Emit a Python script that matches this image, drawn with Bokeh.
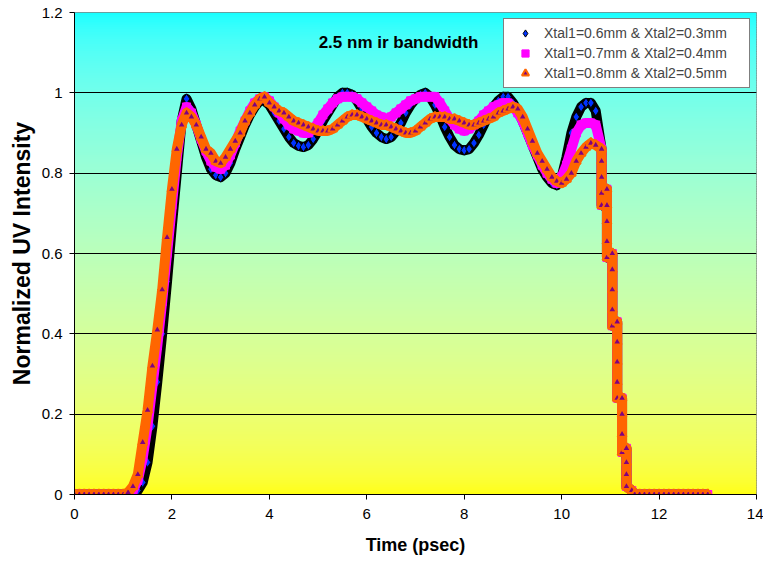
from bokeh.plotting import figure
from bokeh.models import (FixedTicker, CustomJSTickFormatter, Label, Legend,
                          LegendItem, ColumnDataSource, Title)
from bokeh.embed import file_html
from bokeh.resources import INLINE

FONT = "Liberation Sans"

# ---------------- data ----------------
time_main = [round(0.1 * i, 1) for i in range(108)]   # 0.0 ... 10.7 psec

series1_main = [0, 0, 0, 0, 0, 0, 0, 0, 0, 0, 0, 0, 0,
                0.01, 0.03, 0.08, 0.17, 0.28, 0.40, 0.53, 0.67, 0.80, 0.93,
                0.985, 0.96, 0.92, 0.88, 0.84, 0.81, 0.795, 0.79, 0.80, 0.825,
                0.86, 0.89, 0.92, 0.945, 0.965, 0.98, 0.98, 0.97, 0.95, 0.93,
                0.91, 0.89, 0.875, 0.868, 0.865, 0.87, 0.885, 0.905, 0.93, 0.95,
                0.97, 0.99, 1.0, 1.0, 0.995, 0.98, 0.96, 0.935, 0.915, 0.90,
                0.89, 0.885, 0.89, 0.905, 0.925, 0.95, 0.97, 0.985, 0.995, 1.0,
                0.99, 0.97, 0.945, 0.915, 0.89, 0.87, 0.86, 0.857, 0.86, 0.875,
                0.895, 0.92, 0.945, 0.965, 0.98, 0.99, 0.99, 0.975, 0.955, 0.93,
                0.90, 0.87, 0.84, 0.81, 0.79, 0.775, 0.77, 0.79, 0.84, 0.90,
                0.94, 0.965, 0.975, 0.975, 0.955]

series2_main = [0, 0, 0, 0, 0, 0, 0, 0, 0, 0, 0, 0,
                0.01, 0.035, 0.09, 0.17, 0.27, 0.37, 0.48, 0.60, 0.72, 0.84,
                0.93, 0.965, 0.95, 0.92, 0.885, 0.855, 0.83, 0.815, 0.81, 0.82,
                0.845, 0.875, 0.905, 0.93, 0.955, 0.975, 0.985, 0.99, 0.98, 0.965,
                0.95, 0.935, 0.92, 0.91, 0.905, 0.90, 0.90, 0.91, 0.925, 0.945,
                0.96, 0.975, 0.985, 0.99, 0.99, 0.99, 0.985, 0.975, 0.965, 0.955,
                0.945, 0.94, 0.935, 0.94, 0.95, 0.96, 0.97, 0.98, 0.985, 0.99,
                0.99, 0.99, 0.99, 0.975, 0.955, 0.935, 0.92, 0.91, 0.905, 0.91,
                0.92, 0.93, 0.945, 0.955, 0.965, 0.97, 0.975, 0.975, 0.965, 0.95,
                0.93, 0.90, 0.87, 0.845, 0.82, 0.80, 0.785, 0.775, 0.79, 0.82,
                0.86, 0.90, 0.92, 0.925, 0.925, 0.92]

series3_main = [0, 0, 0, 0, 0, 0, 0, 0, 0, 0, 0,
                0.005, 0.02, 0.05, 0.13, 0.21, 0.32, 0.41, 0.51, 0.64, 0.76,
                0.86, 0.92, 0.95, 0.94, 0.92, 0.89, 0.86, 0.85, 0.83, 0.825,
                0.84, 0.86, 0.88, 0.90, 0.93, 0.95, 0.97, 0.985, 0.99, 0.975,
                0.965, 0.955, 0.95, 0.94, 0.93, 0.925, 0.92, 0.915, 0.91, 0.905,
                0.905, 0.905, 0.91, 0.92, 0.93, 0.94, 0.945, 0.945, 0.94, 0.935,
                0.93, 0.925, 0.92, 0.92, 0.915, 0.91, 0.905, 0.90, 0.90, 0.905,
                0.915, 0.925, 0.935, 0.94, 0.94, 0.94, 0.935, 0.935, 0.93, 0.925,
                0.92, 0.92, 0.925, 0.93, 0.935, 0.94, 0.95, 0.955, 0.96, 0.965,
                0.96, 0.94, 0.91, 0.88, 0.85, 0.83, 0.81, 0.79, 0.78, 0.775,
                0.785, 0.80, 0.83, 0.85, 0.865, 0.875, 0.87]

# common stepped fall-off of all three pulses
fall_time = [10.82, 10.82, 10.82, 10.82, 10.82,
             10.93, 10.93, 10.93, 10.93, 10.93,
             11.04, 11.04, 11.04, 11.04, 11.04,
             11.14, 11.14, 11.14, 11.14, 11.14,
             11.24, 11.24, 11.24, 11.24,
             11.33, 11.33, 11.33, 11.33,
             11.44]
fall_value = [0.86, 0.83, 0.79, 0.75, 0.72,
              0.76, 0.72, 0.68, 0.63, 0.59,
              0.60, 0.56, 0.51, 0.46, 0.42,
              0.43, 0.38, 0.33, 0.28, 0.24,
              0.24, 0.20, 0.15, 0.105,
              0.115, 0.08, 0.05, 0.02,
              0.01]
tail_time = [11.5, 11.6, 11.7, 11.8, 11.9, 12.0, 12.1, 12.2, 12.3, 12.4,
             12.5, 12.6, 12.7, 12.8, 12.9, 13.0]
tail_value = [0, 0, 0, 0, 0, 0, 0, 0, 0, 0, 0, 0, 0, 0, 0, 0]

legend_labels = ["Xtal1=0.6mm & Xtal2=0.3mm",
                 "Xtal1=0.7mm & Xtal2=0.4mm",
                 "Xtal1=0.8mm & Xtal2=0.5mm"]
x_ticks = [0, 2, 4, 6, 8, 10, 12, 14]
y_ticks = [0, 0.2, 0.4, 0.6, 0.8, 1.0, 1.2]
grid_ticks = [0.2, 0.4, 0.6, 0.8, 1.0]
annotation_text = "2.5 nm ir bandwidth"
x_title = "Time (psec)"
y_title = "Normalized UV Intensity"

# ---------------- figure ----------------
p = figure(width=763, height=561, x_range=(0, 14), y_range=(0, 1.2),
           output_backend="svg", toolbar_location=None,
           min_border_left=74, min_border_right=7, min_border_top=12,
           min_border_bottom=67, background_fill_color="white",
           border_fill_color="white", outline_line_color="#808080")

# cyan (top) -> yellow (bottom) gradient plot area, mixed in linear light
n = 200
step = 1.2 / n
top_rgb = (20, 255, 255)
bot_rgb = (255, 255, 10)
bottoms, tops, cols = [], [], []
for i in range(n):
    f = (i + 0.5) / n
    c = []
    for a, b in zip(bot_rgb, top_rgb):
        lin = (1 - f) * (a / 255.0) ** 2.2 + f * (b / 255.0) ** 2.2
        c.append(int(round(255 * lin ** (1 / 2.2))))
    bottoms.append(i * step)
    tops.append(min(1.2, (i + 1.6) * step))
    cols.append("#%02x%02x%02x" % tuple(c))
p.quad(left=0, right=14, bottom=bottoms, top=tops, fill_color=cols,
       line_color=None, level="image")

t_all = time_main + fall_time + tail_time
src1 = ColumnDataSource(dict(t=t_all, v=series1_main + fall_value + tail_value))
src2 = ColumnDataSource(dict(t=t_all, v=series2_main + fall_value + tail_value))
src3 = ColumnDataSource(dict(t=t_all, v=series3_main + fall_value + tail_value))

p.line("t", "v", source=src1, line_color="black", line_width=10, line_join="round")
r1 = p.scatter("t", "v", source=src1, marker="diamond", size=10,
               fill_color="#0033ff", line_color="black", line_width=1)
p.line("t", "v", source=src2, line_color="#ff00ff", line_width=10, line_join="round")
r2 = p.scatter("t", "v", source=src2, marker="square", size=8,
               fill_color="#ff00ff", line_color="#ff00ff", line_width=1)
p.line("t", "v", source=src3, line_color="#ff6600", line_width=10, line_join="round")
r3 = p.scatter("t", "v", source=src3, marker="triangle", size=9,
               fill_color="#800080", line_color="#ff6600", line_width=2)

# axes
p.xaxis.ticker = FixedTicker(ticks=x_ticks)
p.yaxis.ticker = FixedTicker(ticks=y_ticks)
p.yaxis.formatter = CustomJSTickFormatter(code="return String(Math.round(tick*10)/10);")
for ax in (p.xaxis[0], p.yaxis[0]):
    ax.axis_line_color = "black"
    ax.major_tick_line_color = "black"
    ax.minor_tick_line_color = None
    ax.major_tick_in = 0
    ax.major_tick_out = 5
    ax.major_label_text_font = FONT
    ax.major_label_text_font_size = "15px"
    ax.major_label_text_color = "black"
    ax.axis_label_text_font = FONT
    ax.axis_label_text_font_style = "bold"
    ax.axis_label_text_color = "black"
p.xaxis.axis_label = x_title
p.xaxis.axis_label_text_font_size = "18px"
p.xaxis.major_label_standoff = 9
p.xaxis.axis_label_standoff = 13
p.yaxis.major_label_standoff = 7

p.xgrid.visible = False
p.ygrid.ticker = FixedTicker(ticks=grid_ticks)
p.ygrid.grid_line_color = "black"
p.ygrid.grid_line_width = 1

# vertical axis title, as a side title shifted a little above centre
p.add_layout(Title(text=y_title, align="center", offset=21, standoff=8,
                   text_font=FONT, text_font_size="23px",
                   text_font_style="bold", text_color="black"), "left")

# annotation
p.add_layout(Label(x=6.65, y=1.125, text=annotation_text, text_font=FONT,
                   text_font_size="17px", text_font_style="bold",
                   text_align="center", text_baseline="middle",
                   text_color="black"))

# legend
legend = Legend(items=[LegendItem(label=legend_labels[0], renderers=[r1]),
                       LegendItem(label=legend_labels[1], renderers=[r2]),
                       LegendItem(label=legend_labels[2], renderers=[r3])],
                location="top_right", margin=6, padding=5, spacing=2,
                glyph_width=32, glyph_height=18, label_height=18,
                label_standoff=3, label_width=200,
                label_text_font=FONT, label_text_font_size="14px",
                border_line_color="black", border_line_width=1,
                background_fill_color="white", background_fill_alpha=1.0)
p.add_layout(legend)

open("out.html", "w").write(file_html(p, INLINE))
